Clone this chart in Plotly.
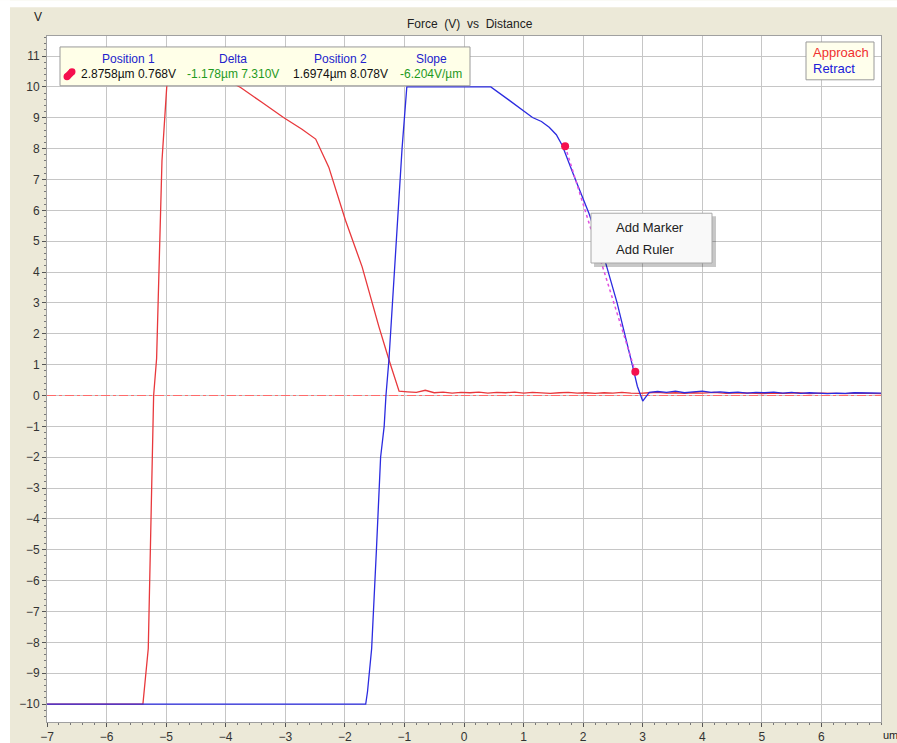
import plotly.graph_objects as go

# ---------------------------------------------------------------- data
# Approach (extend) curve: distance in µm, deflection signal in V
approach_x = [-7.0, -5.39, -5.30, -5.21, -5.16, -5.11, -5.07, -4.99, -4.95, -4.30,
              -3.75, -3.40, -3.03, -2.72, -2.49, -2.27, -1.99, -1.71, -1.43, -1.26,
              -1.09, -0.95, -0.80, -0.65, -0.50, -0.35, -0.20, -0.05, 0.10, 0.25,
              0.40, 0.55, 0.70, 0.85, 1.00, 1.15, 1.30, 1.45, 1.60, 1.75, 1.90,
              2.05, 2.20, 2.35, 2.50, 2.65, 2.80, 2.95, 3.10, 3.25, 3.40, 3.55,
              3.70, 3.85, 4.00, 4.20, 4.40, 4.60, 4.80, 5.00, 5.20, 5.40, 5.60,
              5.80, 6.00, 6.20, 6.40, 6.60, 6.80, 7.00]
approach_y = [-10.0, -10.0, -8.2, 0.0, 1.2, 5.0, 7.6, 10.0, 10.55, 10.55,
              9.98, 9.51, 9.01, 8.63, 8.31, 7.40, 5.68, 4.17, 2.24, 1.16,
              0.14, 0.12, 0.10, 0.17, 0.09, 0.11, 0.08, 0.10, 0.09, 0.11,
              0.08, 0.10, 0.09, 0.11, 0.08, 0.10, 0.09, 0.07, 0.09, 0.10, 0.08,
              0.09, 0.07, 0.09, 0.08, 0.10, 0.08, 0.07, 0.09, 0.10, 0.08, 0.09,
              0.07, 0.09, 0.08, 0.10, 0.07, 0.09, 0.08, 0.06, 0.08, 0.07, 0.09,
              0.06, 0.08, 0.07, 0.06, 0.08, 0.07, 0.06]

# Retract curve
retract_x = [-7.0, -1.65, -1.62, -1.55, -1.47, -1.40, -1.34, -1.31, -1.26, -1.20,
             -1.12, -1.04, -0.96, 0.45, 0.75, 1.00, 1.15, 1.30, 1.43, 1.55,
             1.65, 1.85, 2.10, 2.38, 2.57, 2.83, 2.91, 3.00, 3.11, 3.25,
             3.40, 3.55, 3.70, 3.85, 4.00, 4.15, 4.30, 4.45, 4.60, 4.75,
             4.90, 5.05, 5.20, 5.35, 5.50, 5.65, 5.80, 5.95, 6.10, 6.25,
             6.40, 6.55, 6.70, 6.85, 7.00]
retract_y = [-10.0, -10.0, -9.6, -8.2, -5.0, -2.0, -1.0, 0.0, 1.16, 3.1,
             5.5, 8.0, 10.0, 10.0, 9.58, 9.22, 9.01, 8.88, 8.69, 8.45,
             8.10, 7.10, 5.89, 4.28, 3.00, 0.95, 0.30, -0.18, 0.10, 0.13,
             0.10, 0.14, 0.09, 0.12, 0.14, 0.10, 0.12, 0.09, 0.11, 0.08,
             0.10, 0.09, 0.11, 0.08, 0.10, 0.07, 0.09, 0.08, 0.06, 0.08,
             0.07, 0.09, 0.08, 0.07, 0.08]

# ruler cursors placed on the retract curve (µm, V)
cursor1 = (2.8758, 0.768)
cursor2 = (1.6974, 8.078)
slope_label = "-6.204V/µm"

x_ticks = list(range(-7, 7))
y_ticks = list(range(-10, 12))

series_names = ["Approach", "Retract"]
header_labels = ["Position 1", "Delta", "Position 2", "Slope"]
menu_items = ["Add Marker", "Add Ruler"]

# ---------------------------------------------------------------- layout geometry
W, H = 897, 756
L, R, T, B = 47, 16, 36, 31
PW, PH = W - L - R, H - T - B
BOTTOM = T + PH  # pixel row of the x axis


def px(x):
    return (x - L) / PW


def py(y):
    return (BOTTOM - y) / PH


RED = "#E8383C"
BLUE = "#2B2BE0"
FONT = "Liberation Sans"

fig = go.Figure()

# zero reference line
fig.add_trace(go.Scatter(x=[-7, 7], y=[0, 0], mode="lines",
                         line=dict(color="#FF6A6A", width=1.2, dash="dashdot"),
                         hoverinfo="skip", showlegend=False))
fig.add_trace(go.Scatter(x=approach_x, y=approach_y, mode="lines", name=series_names[0],
                         line=dict(color=RED, width=1.3), showlegend=False))
fig.add_trace(go.Scatter(x=retract_x, y=retract_y, mode="lines", name=series_names[1],
                         line=dict(color=BLUE, width=1.3), showlegend=False))
# ruler between the two cursors
fig.add_trace(go.Scatter(x=[cursor2[0], cursor1[0]], y=[cursor2[1], cursor1[1]],
                         mode="lines", line=dict(color="#E050E0", width=1.5, dash="dot"),
                         hoverinfo="skip", showlegend=False))
fig.add_trace(go.Scatter(x=[cursor1[0], cursor2[0]], y=[cursor1[1], cursor2[1]],
                         mode="markers", marker=dict(color="#F5104E", size=8),
                         showlegend=False))

shapes = [
    # white frame strips around the beige panel
    dict(type="rect", xref="paper", yref="paper", x0=px(0), x1=px(W), y0=py(7), y1=py(0),
         fillcolor="white", line=dict(width=0), layer="below"),
    dict(type="rect", xref="paper", yref="paper", x0=px(0), x1=px(10), y0=py(H), y1=py(0),
         fillcolor="white", line=dict(width=0), layer="below"),
    # cursor readout box
    dict(type="rect", xref="paper", yref="paper", x0=px(60), x1=px(470), y0=py(86), y1=py(47),
         fillcolor="#FFFFE8", line=dict(color="#9A9A9A", width=1), layer="above"),
    # legend box
    dict(type="rect", xref="paper", yref="paper", x0=px(806), x1=px(874), y0=py(80), y1=py(42),
         fillcolor="#FFFFEC", line=dict(color="#9A9A9A", width=1), layer="above"),
    # context menu with drop shadow
    dict(type="rect", xref="paper", yref="paper", x0=px(594), x1=px(716), y0=py(268), y1=py(217),
         fillcolor="rgba(0,0,0,0.22)", line=dict(width=0), layer="above"),
    dict(type="rect", xref="paper", yref="paper", x0=px(591), x1=px(712), y0=py(264), y1=py(214),
         fillcolor="#F9F9F9", line=dict(color="#A8A8A8", width=1), layer="above"),
    # cursor icon in the readout box
    dict(type="line", xref="paper", yref="paper", x0=px(67), x1=px(72), y0=py(77), y1=py(72),
         line=dict(color="#F5104E", width=7), layer="above"),
    dict(type="circle", xref="paper", yref="paper", x0=px(63.5), x1=px(70.5), y0=py(80.5), y1=py(73.5),
         fillcolor="#F5104E", line=dict(width=0), layer="above"),
    dict(type="circle", xref="paper", yref="paper", x0=px(68.5), x1=px(75.5), y0=py(75.5), y1=py(68.5),
         fillcolor="#F5104E", line=dict(width=0), layer="above"),
]


def ann(text, x, y, color="#222", size=11, xanchor="center"):
    return dict(text=text, x=px(x), y=py(y), xref="paper", yref="paper",
                xanchor=xanchor, yanchor="middle", showarrow=False,
                font=dict(family=FONT, size=size, color=color))


delta_x = cursor2[0] - cursor1[0]
delta_y = cursor2[1] - cursor1[1]
values = [
    (f"{cursor1[0]:.4f}µm {cursor1[1]:.3f}V", "#111"),
    (f"{delta_x:.3f}µm {delta_y:.3f}V", "#1E9A1E"),
    (f"{cursor2[0]:.4f}µm {cursor2[1]:.3f}V", "#111"),
    (slope_label, "#1E9A1E"),
]
col_x = [128, 233, 340, 431]

annotations = [
    ann("Force  (V)  vs  Distance", 470, 24, "#222", 12),
    ann("V", 38, 17, "#222", 12),
    ann("um", 881, 738, "#222", 11, "left"),
    ann(series_names[0], 811, 53, "#F03030", 13, "left"),
    ann(series_names[1], 811, 69, "#2020D8", 13, "left"),
    ann(menu_items[0], 614, 228, "#222", 13, "left"),
    ann(menu_items[1], 614, 250, "#222", 13, "left"),
]
for lbl, cx in zip(header_labels, col_x):
    annotations.append(ann(lbl, cx, 59, "#2222CC", 12))
for (txt, col), cx in zip(values, col_x):
    annotations.append(ann(txt, cx, 74, col, 12))

axis_common = dict(
    ticks="outside", ticklen=4, tickcolor="#555", tickwidth=1,
    showgrid=True, gridcolor="#C6C6C6", gridwidth=1,
    showline=True, linecolor="#A0A0A0", linewidth=1, mirror=True,
    zeroline=False, tickfont=dict(family=FONT, size=12, color="#333"),
    minor=dict(dtick=0.2, ticks="outside", ticklen=2, tickcolor="#777", showgrid=False),
    fixedrange=True,
)

fig.update_layout(
    width=W, height=H, autosize=False,
    margin=dict(l=L, r=R, t=T, b=B),
    paper_bgcolor="#ECE9D8",
    plot_bgcolor="white",
    xaxis=dict(range=[-7, 7], tickmode="array", tickvals=x_ticks, **axis_common),
    yaxis=dict(range=[-10.58, 11.65], tickmode="array", tickvals=y_ticks, **axis_common),
    shapes=shapes,
    annotations=annotations,
    showlegend=False,
    font=dict(family=FONT),
)

fig.write_html("out.html")
